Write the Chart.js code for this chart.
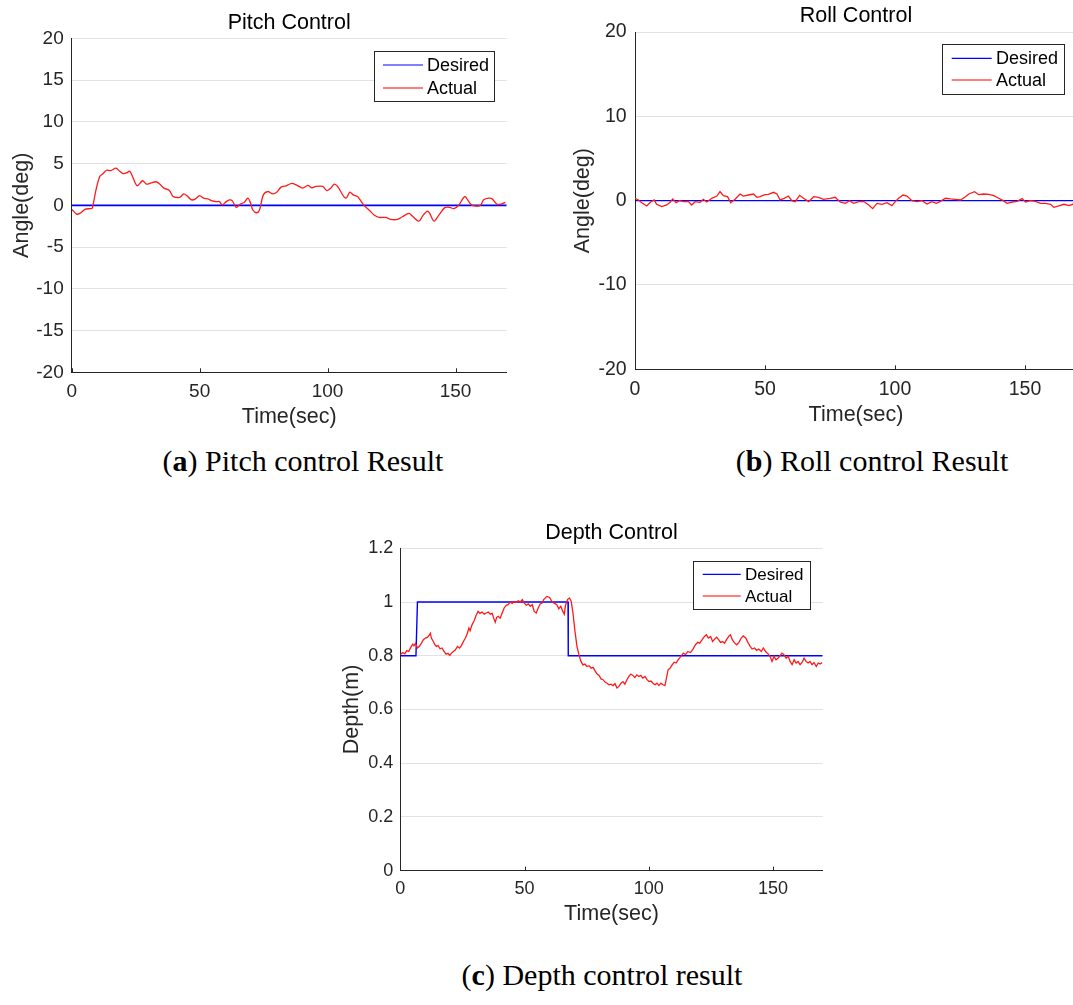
<!DOCTYPE html>
<html><head><meta charset="utf-8">
<script src="https://cdn.jsdelivr.net/npm/chart.js@4"></script>
<style>
html,body{margin:0;padding:0;background:#fff;overflow:hidden;width:1073px;height:1005px;position:relative;}
canvas{position:absolute;}
.cap{position:absolute;font-family:"Liberation Serif","Times New Roman",serif;font-size:30px;color:#000;white-space:nowrap;transform:translate(-50%,-50%);line-height:1;}
</style></head><body>
<canvas id="pitch" width="530" height="440" style="left:0;top:0"></canvas>
<canvas id="roll" width="517" height="440" style="left:560px;top:0"></canvas>
<canvas id="depth" width="510" height="430" style="left:330px;top:505px"></canvas>
<div class="cap" style="left:303px;top:461px">(<b>a</b>) Pitch control Result</div>
<div class="cap" style="left:872px;top:461px">(<b>b</b>) Roll control Result</div>
<div class="cap" style="left:602px;top:975px">(<b>c</b>) Depth control result</div>
<script>
// ---------------- DATA ----------------
const timeTicks = [0, 50, 100, 150];
const timeTickLabels = ['0', '50', '100', '150'];

const pitchYTicks = [-20, -15, -10, -5, 0, 5, 10, 15, 20];
const pitchYTickLabels = ['-20', '-15', '-10', '-5', '0', '5', '10', '15', '20'];
const rollYTicks = [-20, -10, 0, 10, 20];
const rollYTickLabels = ['-20', '-10', '0', '10', '20'];
const depthYTicks = [0, 0.2, 0.4, 0.6, 0.8, 1, 1.2];
const depthYTickLabels = ['0', '0.2', '0.4', '0.6', '0.8', '1', '1.2'];

const pitchDesiredTime = [0, 170];
const pitchDesired = [0, 0];
const pitchTime = [0,1.9,3.2,5.2,7.1,8,9.5,11,12.3,13.6,15.2,17.3,18.8,20.1,21.4,22.7,24,25.6,27.7,29.2,30.8,32.9,34.4,36,38.1,39.6,41.6,42.5,43.8,45.1,46.8,48.4,50,51.6,53.2,54.9,56.5,57.8,58.8,60.4,61.7,62.7,64.3,65.8,67.5,68.8,69.7,70.8,72.3,73.4,74.9,76.6,78.6,80.1,81.8,83.8,86,87.9,90.3,92.2,93.8,95.5,98.1,99.7,101.3,102.6,103.9,106.5,107.4,108.7,110,111.7,113,114.3,116.2,118.2,120.1,122.7,124.7,127.3,129.2,131.8,133.1,135.7,137.3,139,139.9,141.6,143.5,145.8,147.7,149.4,151.3,153.6,155.2,156.5,159.7,161,163,164.3,166.2,167.9,169.5];
const pitchActual = [-0.48,-1.05,-0.97,-0.48,-0.4,-0.36,1.85,3.47,3.8,4.2,4.15,4.44,4.07,3.8,3.87,4.07,3.27,2.34,2.94,2.54,2.66,2.82,2.54,2.06,1.81,1.05,0.93,1.0,1.37,1.13,0.65,0.77,1.17,0.85,0.77,0.52,0.44,0.44,0.04,0.44,0.65,0.56,-0.24,0.12,0.36,0.85,0.44,-0.56,-0.89,-0.56,1.25,1.65,1.37,1.57,2.18,2.34,2.62,2.42,2.06,2.38,2.1,2.26,2.26,1.77,2.06,2.54,2.26,0.97,0.89,1.57,1.25,1.05,0.52,-0.04,-0.56,-1.17,-1.45,-1.45,-1.69,-1.69,-1.37,-0.97,-1.29,-1.9,-1.21,-0.69,-0.97,-1.9,-1.17,-0.28,-0.24,-0.4,0.04,1.05,0.44,0,0,0.65,0.85,0.77,0.12,0.16,0.36];

const rollDesiredTime = [0, 170];
const rollDesired = [0, 0];
const rollTime = [0,1.3,2.6,4.5,6.0,7.4,8.3,10.3,12.2,13.5,14.5,15.8,17.1,18.6,20.5,21.8,23.1,25,26.3,27.6,29.5,31.5,32.7,34,35.6,36.8,38.5,40.4,41.7,43.6,45.6,46.9,48.1,50,51.3,53.3,54.6,55.8,57.4,59,60.3,61.6,63.3,64.8,66.8,68.7,70.6,72.5,75.1,77,78.9,80.9,82.5,84.1,86,87.9,89.9,91.4,93.1,95,96.9,98.8,100.1,101.4,103.1,104.6,106.5,108.5,110.4,112.3,114.2,115.9,117.5,119.4,121.3,123.2,125.2,127.1,128.4,130.6,132.2,134.1,136.1,138,139.9,141.6,143.1,145.1,147,148.9,150.2,152.1,154,156,157.9,159.8,161.1,163,165,166.9,168.6,170];
const rollActual = [0.28,0.08,-0.24,-0.63,-0.16,0.08,-0.43,-0.71,-0.51,-0.2,0.2,-0.24,0,-0.12,-0.08,-0.51,-0.12,-0.2,0.16,-0.16,0.28,0.55,1.07,0.59,0.47,-0.24,0.16,0.79,0.55,0.67,0.79,0.4,0.47,0.71,0.75,0.99,0.79,0.08,0.28,0.55,0,-0.12,0.63,0.28,-0.12,0.47,0.4,0.16,0.28,0.4,-0.16,-0.32,0,-0.32,-0.12,-0.08,-0.51,-0.95,-0.32,-0.43,-0.24,-0.59,-0.12,0.28,0.67,0.55,0,-0.12,0,-0.4,-0.12,-0.32,-0.08,0.28,0.2,0.16,0.08,0.47,0.79,1.07,0.71,0.79,0.75,0.59,0.28,0,-0.32,-0.16,-0.08,0.24,-0.16,0,-0.08,-0.32,-0.32,-0.43,-0.79,-0.63,-0.43,-0.59,-0.4,-0.5];

const depthDesiredTime = [0, 6.3, 6.9, 67.5, 67.6, 170];
const depthDesired = [0.8, 0.8, 1, 1, 0.8, 0.8];
const depthTime = [
  0,0.95,1.8,2.6,3.4,4.2,5.0,5.5,6.1,6.9,7.7,8.5,9.3,10.1,10.9,11.7,12.1,12.5,13.3,13.9,14.5,15.2,16,16.8,17.6,18.4,19.2,19.9,20.6,21.4,22.2,23,23.8,24.6,25.4,26.2,27,27.6,28.1,28.9,29.7,30.5,31.3,32.1,32.9,33.8,34.6,35.4,36.2,37,37.6,38.2,38.8,39.4,40.2,41,41.8,42.6,43.4,44.2,45,45.8,46.6,47.5,48.3,49.1,49.9,50.7,51.5,52.3,53.1,53.9,54.7,55.5,56.3,57.1,
  57.7,59.0,60.1,61,61.9,63,63.8,64.6,65.4,66,66.5,67.3,68.1,68.8,69.5,70.3,71.1,71.9,72.7,73.5,74.3,75.1,76,76.8,77.6,78.4,79.2,80,80.8,81.6,82.4,83.2,84,84.8,85.6,86.4,87.2,88,88.8,89.6,90.4,91.2,92,92.8,93.6,94.4,95.2,96,96.8,97.6,98.5,99.3,100.1,100.9,101.7,102.5,103.3,104.1,104.9,105.7,106.5,107,107.8,108.6,109.4,110.2,111,111.8,112.6,
  113.9,114.8,115.7,116.8,117.8,118.8,119.7,120.5,121.5,122.4,123.2,124,124.9,125.7,126.5,127.3,128.1,128.9,129.7,130.5,131.3,132.3,132.9,133.6,134.6,135.4,136.3,137.2,138,139,139.9,140.7,141.6,142.6,143.4,144.3,145.3,146.1,147,148,148.8,149.6,150.4,151.2,152,152.8,153.6,154.4,155.3,156.1,156.9,157.7,158.5,159.3,160.1,160.9,161.7,162.5,163.3,164.1,164.9,165.7,166.5,167.4,168.2,169,169.8];
const depthActual = [
  0.804,0.812,0.807,0.819,0.816,0.831,0.843,0.837,0.846,0.829,0.835,0.847,0.86,0.866,0.868,0.878,0.884,0.866,0.853,0.841,0.835,0.838,0.826,0.829,0.816,0.806,0.809,0.801,0.81,0.816,0.822,0.835,0.829,0.838,0.853,0.866,0.884,0.903,0.893,0.916,0.93,0.95,0.965,0.958,0.963,0.955,0.959,0.963,0.955,0.958,0.94,0.925,0.943,0.947,0.94,0.959,0.978,0.988,0.99,1.0,0.995,1.002,0.998,1.005,1.0,1.009,0.996,0.988,0.993,0.984,0.99,0.965,0.959,0.978,0.993,0.996,
  1.009,1.021,1.017,1.002,0.996,0.99,0.975,0.984,0.965,0.955,0.988,1.009,1.015,1.002,0.959,0.891,0.835,0.804,0.779,0.766,0.769,0.76,0.763,0.754,0.757,0.744,0.732,0.727,0.714,0.711,0.702,0.698,0.692,0.694,0.689,0.696,0.68,0.686,0.698,0.704,0.694,0.711,0.723,0.732,0.727,0.719,0.729,0.723,0.727,0.717,0.723,0.711,0.704,0.706,0.698,0.692,0.698,0.689,0.698,0.692,0.689,0.711,0.748,0.754,0.766,0.776,0.773,0.785,0.794,
  0.81,0.804,0.816,0.812,0.825,0.841,0.85,0.847,0.86,0.872,0.878,0.866,0.872,0.853,0.862,0.869,0.86,0.85,0.853,0.847,0.86,0.874,0.878,0.86,0.847,0.841,0.85,0.866,0.874,0.866,0.85,0.837,0.825,0.829,0.82,0.825,0.816,0.829,0.816,0.807,0.798,0.779,0.798,0.785,0.791,0.8,0.81,0.804,0.791,0.798,0.779,0.767,0.785,0.773,0.779,0.767,0.775,0.791,0.779,0.773,0.779,0.767,0.775,0.76,0.773,0.769,0.775];

// ---------------- RENDERING ----------------
const FONT = '"Liberation Sans", Arial, Helvetica, sans-serif';
const TXT = '#262626';
const toXY = (xs, ys) => xs.slice(0, Math.min(xs.length, ys.length)).map((x, i) => ({x, y: ys[i]}));

const panelPlugin = {
  id: 'panel',
  afterDraw(chart, args, o) {
    const ctx = chart.ctx, ca = chart.chartArea, xs = chart.scales.x;
    ctx.save();
    ctx.strokeStyle = TXT; ctx.lineWidth = 1;
    xs.ticks.forEach(t => {
      const px = Math.round(xs.getPixelForValue(t.value)) + 0.5;
      ctx.beginPath(); ctx.moveTo(px, ca.bottom); ctx.lineTo(px, ca.bottom - 4); ctx.stroke();
    });
    ctx.fillStyle = '#000';
    ctx.font = `${o.titleSize}px ${FONT}`;
    ctx.textAlign = 'center'; ctx.textBaseline = 'middle';
    ctx.fillText(o.title, (ca.left + ca.right) / 2, o.titleY);
    const L = o.legend;
    ctx.fillStyle = '#fff'; ctx.fillRect(L.x, L.y, L.w, L.h);
    ctx.strokeStyle = TXT; ctx.lineWidth = 1;
    ctx.strokeRect(Math.round(L.x) + 0.5, Math.round(L.y) + 0.5, Math.round(L.w), Math.round(L.h));
    chart.data.datasets.forEach((ds, i) => {
      const y = L.rows[i];
      ctx.strokeStyle = ds.legendColor || ds.borderColor; ctx.lineWidth = 1.2;
      ctx.beginPath(); ctx.moveTo(L.x1, y); ctx.lineTo(L.x2, y); ctx.stroke();
      ctx.fillStyle = '#000'; ctx.font = `${L.size}px ${FONT}`;
      ctx.textAlign = 'left'; ctx.textBaseline = 'middle';
      ctx.fillText(ds.label, L.tx, y + 1);
    });
    ctx.restore();
  }
};

function makeChart(id, c) {
  return new Chart(document.getElementById(id), {
    type: 'line',
    data: {
      datasets: [
        {label: 'Desired', data: toXY(c.dt, c.dv), borderColor: c.blue || '#0000ff', legendColor: '#0000ff', borderWidth: c.blueW || 1.4, pointRadius: 0, tension: 0, order: 1},
        {label: 'Actual', data: toXY(c.at, c.av), borderColor: '#ff1a1a', legendColor: '#ff0000', borderWidth: c.redW || 1.3, pointRadius: 0, tension: c.tension || 0, order: 0}
      ]
    },
    options: {
      responsive: false, animation: false, events: [],
      layout: {padding: c.pad},
      plugins: {legend: {display: false}, title: {display: false}, tooltip: {enabled: false},
        panel: {title: c.title, titleY: c.titleY, titleSize: 21.5, legend: c.legend}},
      scales: {
        x: {
          type: 'linear', min: 0, max: 170,
          afterBuildTicks: s => { s.ticks = timeTicks.map(v => ({value: v})); },
          afterFit: s => { s.height = c.xH; },
          ticks: {color: TXT, font: {family: FONT, size: c.tick}, padding: c.xtp, maxRotation: 0, autoSkip: false,
            callback: (v, i) => timeTickLabels[i]},
          grid: {display: false, drawTicks: false},
          border: {display: true, color: TXT, width: 1},
          title: {display: true, text: 'Time(sec)', color: TXT, font: {family: FONT, size: 21.5}, padding: {top: 0, bottom: c.xtb}}
        },
        y: {
          type: 'linear', min: c.ymin, max: c.ymax,
          afterBuildTicks: s => { s.ticks = c.yt.map(v => ({value: v})); },
          afterFit: s => { s.width = c.yW; },
          ticks: {color: TXT, font: {family: FONT, size: c.tick}, padding: c.ytp, autoSkip: false,
            callback: (v, i) => c.ytl[i]},
          grid: {display: true, drawTicks: false, color: '#e2e2e2', lineWidth: 1},
          border: {display: true, color: TXT, width: 1},
          title: {display: true, text: c.ylabel, color: TXT, font: {family: FONT, size: 21.5}, padding: {top: c.ytt, bottom: 0}}
        }
      }
    },
    plugins: [panelPlugin]
  });
}

makeChart('pitch', {
  dt: pitchDesiredTime, dv: pitchDesired, at: pitchTime, av: pitchActual, tension: 0.3, blueW: 1.8,
  title: 'Pitch Control', titleY: 22.6, ylabel: 'Angle(deg)',
  ymin: -20, ymax: 20, yt: pitchYTicks, ytl: pitchYTickLabels,
  pad: {left: 0, top: 38.3, right: 23.3, bottom: 7.7}, xH: 60, yW: 71.7,
  tick: 19, xtp: 8, ytp: 8, xtb: 2.7, ytt: 8.8,
  legend: {x: 374, y: 50.7, w: 120, h: 49.6, rows: [65, 88], x1: 383, x2: 423, tx: 427, size: 18}
});

makeChart('roll', {
  dt: rollDesiredTime, dv: rollDesired, at: rollTime, av: rollActual,
  title: 'Roll Control', titleY: 16, ylabel: 'Angle(deg)',
  ymin: -20, ymax: 20, yt: rollYTicks, ytl: rollYTickLabels,
  pad: {left: 0, top: 32, right: 0, bottom: 10.7}, xH: 60, yW: 75,
  tick: 19.5, xtp: 8.6, ytp: 8.3, xtb: 1.4, ytt: 10.4,
  legend: {x: 382, y: 44, w: 122.3, h: 50, rows: [58.3, 80], x1: 391.7, x2: 431.7, tx: 436, size: 18}
});

makeChart('depth', {
  dt: depthDesiredTime, dv: depthDesired, at: depthTime, av: depthActual,
  title: 'Depth Control', titleY: 28.3, ylabel: 'Depth(m)',
  ymin: 0, ymax: 1.2, yt: depthYTicks, ytl: depthYTickLabels,
  pad: {left: 0, top: 43.3, right: 17.3, bottom: 4.3}, xH: 60, yW: 70.3,
  tick: 18, xtp: 7.9, ytp: 7, xtb: 3.8, ytt: 8.8,
  legend: {x: 363.3, y: 56, w: 117, h: 47.7, rows: [69.3, 91], x1: 372.7, x2: 410.7, tx: 415, size: 17}
});
</script>
</body></html>
